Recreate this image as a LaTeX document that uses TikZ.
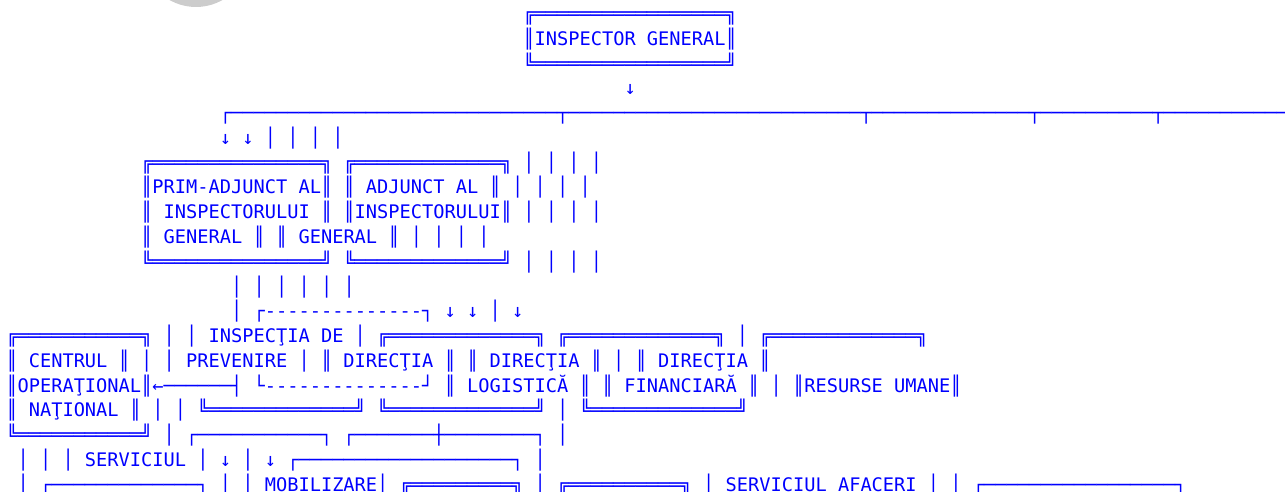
\documentclass[tikz,border=0pt]{standalone}
\usepackage{fontspec}
\setmonofont{DejaVu Sans Mono}
\definecolor{chartblue}{RGB}{0,0,255}
\definecolor{badgegrey}{RGB}{204,204,204}
\ExplSyntaxOn
\cs_new:Npn \hrun #1#2 { \prg_replicate:nn {#1} {#2} }
\ExplSyntaxOff

\begin{document}
\begin{tikzpicture}[
    x=11.24pt, y=-24.75pt,
    txtrow/.style={anchor=base west, inner sep=0pt, outer sep=0pt, text=chartblue,
        font=\ttfamily\fontsize{18.67}{24.75}\selectfont}
]
    \path[use as bounding box] (-141.2pt,20.75pt) rectangle (1143.8pt,-471.25pt);
    \clip (-141.2pt,20.75pt) rectangle (1143.8pt,-471.25pt);
    \fill[badgegrey] (54.8pt,67.35pt) circle[radius=53.6pt];

    % top box
    \node[txtrow] (inspTop) at (34,0) {╔\hrun{17}{═}╗};
    \node[txtrow] (inspName) at (34,1) {║INSPECTOR GENERAL║};
    \node[txtrow] (inspBottom) at (34,2) {╚\hrun{17}{═}╝};
    \node[txtrow] (inspArrow) at (43,3) {↓};
    \node[txtrow] (branchLine) at (7,4) {┌\hrun{29}{─}┬\hrun{26}{─}┬\hrun{14}{─}┬\hrun{10}{─}┬\hrun{16}{─}};
    \node[txtrow] (branchArrows) at (7,5) {↓ ↓ │ │ │ │};

    % deputies
    \node[txtrow] (adjTop) at (0,6) {╔\hrun{15}{═}╗ ╔\hrun{13}{═}╗ │ │ │ │};
    \node[txtrow] (adjLineA) at (0,7) {║PRIM-ADJUNCT AL║ ║ ADJUNCT AL ║ │ │ │ │};
    \node[txtrow] (adjLineB) at (0,8) {║ INSPECTORULUI ║ ║INSPECTORULUI║ │ │ │ │};
    \node[txtrow] (adjLineC) at (0,9) {║ GENERAL ║ ║ GENERAL ║ │ │ │ │};
    \node[txtrow] (adjBottom) at (0,10) {╚\hrun{15}{═}╝ ╚\hrun{13}{═}╝ │ │ │ │};
    \node[txtrow] (stemRow) at (8,11) {│ │ │ │ │ │};
    \node[txtrow] (dashTop) at (8,12) {│ ┌\hrun{14}{-}┐ ↓ ↓ │ ↓};

    % directions
    \node[txtrow] (dirTop) at (-12,13) {╔\hrun{11}{═}╗ │ │ INSPECŢIA DE │ ╔\hrun{13}{═}╗ ╔\hrun{13}{═}╗ │ ╔\hrun{13}{═}╗};
    \node[txtrow] (dirLineA) at (-12,14) {║ CENTRUL ║ │ │ PREVENIRE │ ║ DIRECŢIA ║ ║ DIRECŢIA ║ │ ║ DIRECŢIA ║};
    \node[txtrow] (dirLineB) at (-12,15) {║OPERAŢIONAL║←\hrun{6}{─}┤ └\hrun{14}{-}┘ ║ LOGISTICĂ ║ ║ FINANCIARĂ ║ │ ║RESURSE UMANE║};
    \node[txtrow] (dirLineC) at (-12,16) {║ NAŢIONAL ║ │ │ ╚\hrun{13}{═}╝ ╚\hrun{13}{═}╝ │ ╚\hrun{13}{═}╝};
    \node[txtrow] (dirBottom) at (-12,17) {╚\hrun{11}{═}╝ │ ┌\hrun{11}{─}┐ ┌\hrun{7}{─}┼\hrun{8}{─}┐ │};

    % services
    \node[txtrow] (servLineA) at (-11,18) {│ │ │ SERVICIUL │ ↓ │ ↓ ┌\hrun{19}{─}┐ │};
    \node[txtrow] (servLineB) at (-11,19) {│ ┌\hrun{13}{─}┐ │ │ MOBILIZARE│ ╔\hrun{9}{═}╗ │ ╔\hrun{10}{═}╗ │ SERVICIUL AFACERI │ │ ┌\hrun{17}{─}┐};
\end{tikzpicture}
\end{document}
